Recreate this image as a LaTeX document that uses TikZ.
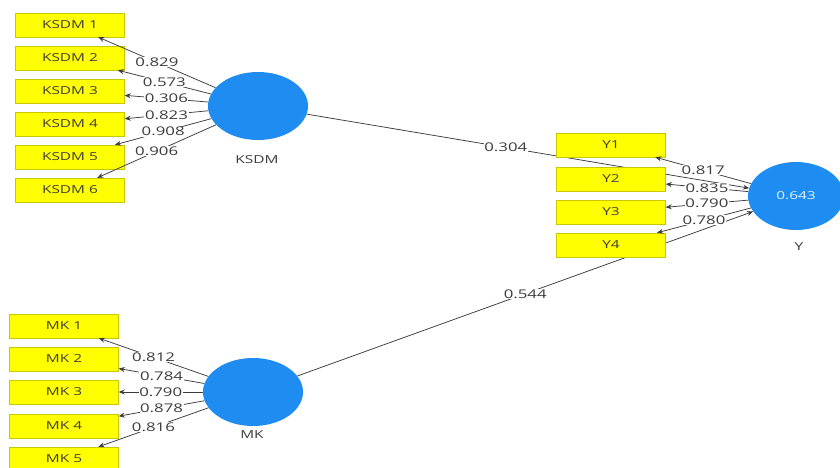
\documentclass[tikz,border=0pt]{standalone}
\usepackage{fontspec}
\setmainfont{Open Sans}
\usetikzlibrary{arrows.meta,shapes.geometric,backgrounds}
\definecolor{boxyellow}{RGB}{255,255,0}
\definecolor{boxedge}{RGB}{200,200,0}
\definecolor{lvblue}{RGB}{30,140,240}
\definecolor{txt}{RGB}{60,60,60}
\definecolor{lvtxt}{RGB}{225,245,255}
\newcommand\hs[1]{\scalebox{1.4}[1]{#1}}
\begin{document}
\begin{tikzpicture}[x=1pt,y=-1pt,
 ind/.style={draw=boxedge, fill=boxyellow, minimum width=109pt, minimum height=24pt, inner sep=0pt, font=\fontsize{11}{12}\selectfont, text=txt},
 lv/.style={ellipse, fill=lvblue, minimum width=100pt, minimum height=68pt, inner sep=0pt, font=\fontsize{11}{12}\selectfont, text=lvtxt},
 lvname/.style={font=\fontsize{11}{12}\selectfont, text=txt},
 ld/.style={draw=txt, line width=0.75pt, -{Stealth[length=6pt,width=5pt]}},
 lab/.style={fill=white, inner sep=0.6pt, font=\fontsize{12}{13}\selectfont, text=txt},
]
\useasboundingbox (0,0) rectangle (840,468);

% latent variables
\node[lv] (ksdm) at (258,106) {};
\node[lv] (mk) at (253,392) {};
\node[lv, minimum width=96pt] (y) at (796,196) {\hs{0.643}};
\node[lvname] (ksdmn) at (257,160) {\hs{KSDM}};
\node[lvname] (mkn) at (252,435) {\hs{MK}};
\node[lvname] (yn) at (799,247) {\hs{Y}};

% indicators
\node[ind] (k1) at (70,25) {\hs{KSDM 1}};
\node[ind] (k2) at (70,58) {\hs{KSDM 2}};
\node[ind] (k3) at (70,91) {\hs{KSDM 3}};
\node[ind] (k4) at (70,124) {\hs{KSDM 4}};
\node[ind] (k5) at (70,157) {\hs{KSDM 5}};
\node[ind] (k6) at (70,190) {\hs{KSDM 6}};

\node[ind] (m1) at (64,326) {\hs{MK 1}};
\node[ind] (m2) at (64,359) {\hs{MK 2}};
\node[ind] (m3) at (64,392) {\hs{MK 3}};
\node[ind] (m4) at (64,426) {\hs{MK 4}};
\node[ind] (m5) at (64,459) {\hs{MK 5}};

\node[ind] (y1) at (611,145) {\hs{Y1}};
\node[ind] (y2) at (611,179) {\hs{Y2}};
\node[ind] (y3) at (611,212) {\hs{Y3}};
\node[ind] (y4) at (611,245) {\hs{Y4}};

% white page and structural paths (behind indicator boxes)
\begin{pgfonlayer}{background}
\fill[white] (0,0) rectangle (840,468);
\draw[ld] (ksdm) -- node[lab, pos=0.45] {\hs{0.304}} (y);
\draw[ld] (mk) -- node[lab, pos=0.5] {\hs{0.544}} (y);
\end{pgfonlayer}

% outer loadings KSDM
\draw[ld] (ksdm) -- node[lab] {\hs{0.829}} (k1);
\draw[ld] (ksdm) -- node[lab] {\hs{0.573}} (k2);
\draw[ld] (ksdm) -- node[lab] {\hs{0.306}} (k3);
\draw[ld] (ksdm) -- node[lab] {\hs{0.823}} (k4);
\draw[ld] (ksdm) -- node[lab] {\hs{0.908}} (k5);
\draw[ld] (ksdm) -- node[lab] {\hs{0.906}} (k6);

% outer loadings MK
\draw[ld] (mk) -- node[lab] {\hs{0.812}} (m1);
\draw[ld] (mk) -- node[lab] {\hs{0.784}} (m2);
\draw[ld] (mk) -- node[lab] {\hs{0.790}} (m3);
\draw[ld] (mk) -- node[lab] {\hs{0.878}} (m4);
\draw[ld] (mk) -- node[lab] {\hs{0.816}} (m5);

% outer loadings Y
\draw[ld] (y) -- node[lab] {\hs{0.817}} (y1);
\draw[ld] (y) -- node[lab] {\hs{0.835}} (y2);
\draw[ld] (y) -- node[lab] {\hs{0.790}} (y3);
\draw[ld] (y) -- node[lab] {\hs{0.780}} (y4);
\end{tikzpicture}
\end{document}
